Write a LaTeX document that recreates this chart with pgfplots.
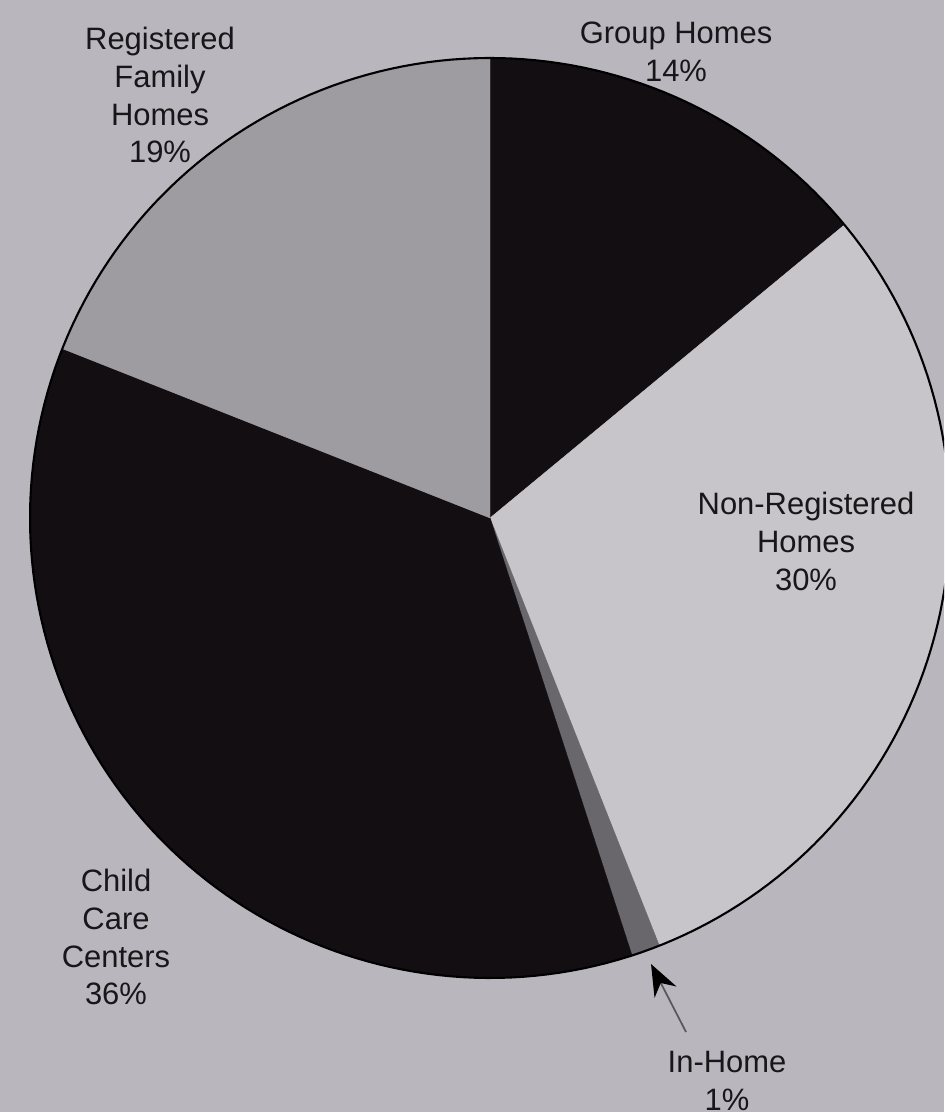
\documentclass[border=0pt]{standalone}
\usepackage{pgfplots}
\usepackage{pgfplotstable}
\pgfplotsset{compat=1.18}
\usepackage{fontspec}
\setmainfont{Liberation Sans}
\usetikzlibrary{arrows.meta}
\definecolor{bgc}{RGB}{186,182,189}
\definecolor{lightslice}{RGB}{199,196,202}
\definecolor{midslice}{RGB}{158,156,161}
\definecolor{darkslice}{RGB}{18,14,18}
\definecolor{inhome}{RGB}{105,103,107}
\definecolor{txt}{RGB}{25,22,25}
\pgfplotstableread{
name pct col
GroupHomes 14 darkslice
NonRegisteredHomes 30 lightslice
InHome 1 inhome
ChildCareCenters 36 darkslice
RegisteredFamilyHomes 19 midslice
}\pietable
\newcommand\lbl{\fontsize{8.8}{10.8}\selectfont\color{txt}}
\begin{document}
\begin{tikzpicture}
\begin{axis}[
  scale only axis, width=9.44cm, height=11.12cm,
  xmin=0, xmax=944, ymin=0, ymax=1112,
  hide axis, clip=true,
]
\fill[bgc] (axis cs:0,0) rectangle (axis cs:944,1112);
\def\cum{0}
\pgfplotsforeachungrouped \i in {0,...,4}{%
  \pgfplotstablegetelem{\i}{pct}\of\pietable \let\pp=\pgfplotsretval
  \pgfplotstablegetelem{\i}{col}\of\pietable \let\cc=\pgfplotsretval
  \pgfmathsetmacro\angA{90-3.6*\cum}%
  \pgfmathsetmacro\angB{90-3.6*(\cum+\pp)}%
  \edef\temp{\noexpand\addplot[fill=\cc, draw=\cc, line width=0.1pt, domain=\angB:\angA, samples=90] ({490+460*cos(x)},{594+460*sin(x)}) -- (axis cs:490,594) -- cycle;}%
  \temp
  \pgfmathsetmacro\cum{\cum+\pp}%
}
\addplot[black, line width=0.6pt, domain=0:360, samples=240] ({490+460*cos(x)},{594+460*sin(x)});
\draw[gray!70!black, line width=0.5pt, -{Stealth[length=9pt,width=7pt,black]}] (axis cs:686,80) -- (axis cs:651,148);
\node[align=center, font=\lbl] at (axis cs:676,1060) {Group Homes\\14\%};
\node[align=center, font=\lbl] at (axis cs:160,1017) {Registered\\Family\\Homes\\19\%};
\node[align=center, font=\lbl] at (axis cs:806,571) {Non-Registered\\Homes\\30\%};
\node[align=center, font=\lbl] at (axis cs:116,175) {Child\\Care\\Centers\\36\%};
\node[align=center, font=\lbl] at (axis cs:727,31) {In-Home\\1\%};
\end{axis}
\pgfresetboundingbox
\path (0,0) rectangle (9.44cm,11.12cm);
\end{tikzpicture}
\end{document}
